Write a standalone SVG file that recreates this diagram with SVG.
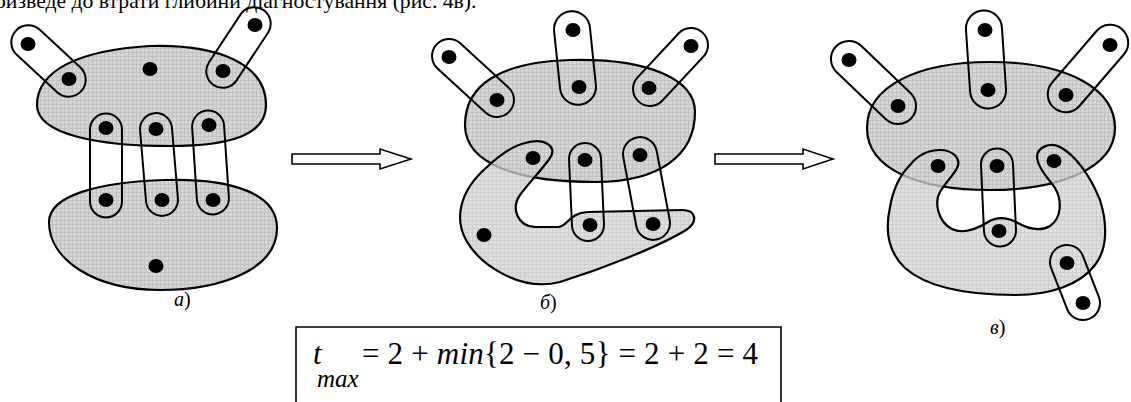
<svg xmlns="http://www.w3.org/2000/svg" width="1131" height="402" viewBox="0 0 1131 402">
<defs>
<pattern id="grid" width="4" height="4" patternUnits="userSpaceOnUse">
<rect width="4" height="4" fill="#d6d6d6"/>
<path d="M0,0.5H4M0.5,0V4" stroke="#c2c2c2" stroke-width="1"/>
</pattern>
</defs>
<style>
.fill{fill:url(#grid);stroke:none}
.over{opacity:0.78}
.edge{fill:none;stroke:#000;stroke-width:2.2;stroke-linejoin:round}
.pill{fill:none;stroke:#000;stroke-width:2}
.dot{fill:#000}
.arrow{fill:#fff;stroke:#000;stroke-width:1.6}
</style>
<rect width="1131" height="402" fill="#fff"/>
<text x="-5" y="8" font-family="'Liberation Serif','Times New Roman','DejaVu Serif',serif" font-size="21.7" fill="#000">ризведе до втрати глибини діагностування (рис. 4в).</text>

<g id="diagram-a">
<g id="a-top-cluster">
<path class="fill" d="M37,105 C37,70 80,50 150,46 C220,44 266,65 266,105 C266,135 230,146 170,146 C100,146 37,135 37,105 Z"/>
<path class="edge" d="M37,105 C37,70 80,50 150,46 C220,44 266,65 266,105 C266,135 230,146 170,146 C100,146 37,135 37,105 Z"/>
</g>
<g id="a-bottom-cluster">
<path class="fill" d="M49,222 C49,195 100,182 165,180 C235,178 277,195 277,228 C277,270 220,290 160,290 C95,290 49,260 49,222 Z"/>
<path class="edge" d="M49,222 C49,195 100,182 165,180 C235,178 277,195 277,228 C277,270 220,290 160,290 C95,290 49,260 49,222 Z"/>
</g>
<g id="a-pills">
<rect class="pill" x="-44.5" y="-17" width="89" height="34" rx="17" transform="translate(48.5,61) rotate(42.7)"/>
<rect class="pill" x="-45" y="-16.5" width="90" height="33" rx="16.5" transform="translate(238.5,47.5) rotate(-56.6)"/>
<rect class="pill" x="-52" y="-16" width="104" height="32" rx="16" transform="translate(106,165.5) rotate(90)"/>
<rect class="pill" x="-51.5" y="-16" width="103" height="32" rx="16" transform="translate(159,164.5) rotate(85.2)"/>
<rect class="pill" x="-52" y="-16" width="104" height="32" rx="16" transform="translate(210.5,162.5) rotate(86.2)"/>
</g>
<g id="a-dots">
<ellipse class="dot" cx="28" cy="44" rx="7.5" ry="7"/>
<ellipse class="dot" cx="69" cy="79" rx="7.5" ry="7"/>
<ellipse class="dot" cx="150" cy="69" rx="7.5" ry="7"/>
<ellipse class="dot" cx="223" cy="71" rx="7.5" ry="7"/>
<ellipse class="dot" cx="255" cy="25" rx="7.5" ry="7"/>
<ellipse class="dot" cx="106" cy="128" rx="7.5" ry="7"/>
<ellipse class="dot" cx="156" cy="129" rx="7.5" ry="7"/>
<ellipse class="dot" cx="209" cy="125" rx="7.5" ry="7"/>
<ellipse class="dot" cx="106" cy="200" rx="7.5" ry="7"/>
<ellipse class="dot" cx="162" cy="200" rx="7.5" ry="7"/>
<ellipse class="dot" cx="213" cy="200" rx="7.5" ry="7"/>
<ellipse class="dot" cx="156" cy="266" rx="7.5" ry="7"/>
</g>
<text x="174" y="306" font-family="'Liberation Serif','Times New Roman','DejaVu Serif',serif" font-size="20" fill="#000"><tspan font-style="italic">а</tspan>)</text>
</g>

<g id="diagram-b">
<g id="b-top-cluster">
<path class="fill" d="M465,125 C465,85 500,62 570,60 C650,58 695,80 695,112 C695,155 660,182 595,182 C520,182 465,165 465,125 Z"/>
<path class="edge" d="M465,125 C465,85 500,62 570,60 C650,58 695,80 695,112 C695,155 660,182 595,182 C520,182 465,165 465,125 Z"/>
</g>
<g id="b-bottom-cluster">
<path class="fill over" d="M487,167 C500,155 512,146 525,143 C545,137 558,147 550,158 C540,172 528,184 520,195 C511,208 517,226 535,227 L558,227 C568,227 568,213 588,212 L682,210 C697,210 698,222 686,230 C660,246 605,268 560,282 C520,292 480,265 466,240 C455,220 458,192 487,167 Z"/>
<path class="edge" d="M487,167 C500,155 512,146 525,143 C545,137 558,147 550,158 C540,172 528,184 520,195 C511,208 517,226 535,227 L558,227 C568,227 568,213 588,212 L682,210 C697,210 698,222 686,230 C660,246 605,268 560,282 C520,292 480,265 466,240 C455,220 458,192 487,167 Z"/>
</g>
<g id="b-pills">
<rect class="pill" x="-49.5" y="-17" width="99" height="34" rx="17" transform="translate(473,78) rotate(42.5)"/>
<rect class="pill" x="-47" y="-18" width="94" height="36" rx="18" transform="translate(575,58) rotate(84.1)"/>
<rect class="pill" x="-47" y="-17" width="94" height="34" rx="17" transform="translate(670.5,67) rotate(-47)"/>
<rect class="pill" x="-49" y="-16" width="98" height="32" rx="16" transform="translate(586.5,192) rotate(87.4)"/>
<rect class="pill" x="-52" y="-17" width="104" height="34" rx="17" transform="translate(646.5,188.5) rotate(79.3)"/>
</g>
<g id="b-dots">
<ellipse class="dot" cx="449" cy="57" rx="7.5" ry="7"/>
<ellipse class="dot" cx="497" cy="100" rx="7.5" ry="7"/>
<ellipse class="dot" cx="573" cy="30" rx="7.5" ry="7"/>
<ellipse class="dot" cx="579" cy="87" rx="7.5" ry="7"/>
<ellipse class="dot" cx="691" cy="46" rx="7.5" ry="7"/>
<ellipse class="dot" cx="649" cy="88" rx="7.5" ry="7"/>
<ellipse class="dot" cx="533" cy="158" rx="7.5" ry="7"/>
<ellipse class="dot" cx="585" cy="160" rx="7.5" ry="7"/>
<ellipse class="dot" cx="640" cy="155" rx="7.5" ry="7"/>
<ellipse class="dot" cx="590" cy="225" rx="7.5" ry="7"/>
<ellipse class="dot" cx="653" cy="224" rx="7.5" ry="7"/>
<ellipse class="dot" cx="484" cy="235" rx="7.5" ry="7"/>
</g>
<text x="540" y="309" font-family="'Liberation Serif','Times New Roman','DejaVu Serif',serif" font-size="20" fill="#000"><tspan font-style="italic">б</tspan>)</text>
</g>

<g id="diagram-c">
<g id="c-top-cluster">
<path class="fill" d="M867,128 C867,85 920,62 990,62 C1070,62 1115,90 1115,128 C1115,168 1060,190 990,190 C920,190 867,170 867,128 Z"/>
<path class="edge" d="M867,128 C867,85 920,62 990,62 C1070,62 1115,90 1115,128 C1115,168 1060,190 990,190 C920,190 867,170 867,128 Z"/>
</g>
<g id="c-bottom-cluster">
<path class="fill over" d="M890,207 C893,190 900,175 910,165 C918,155 928,150 940,150 C952,150 962,158 957,168 C953,176 945,183 940,192 C934,202 938,222 952,229 C962,234 975,230 988,222 C998,216 1008,218 1016,222 C1028,229 1040,232 1050,226 C1062,218 1062,200 1055,188 C1048,178 1038,168 1037,157 C1037,147 1050,142 1060,147 C1075,155 1090,175 1100,200 C1108,225 1107,250 1095,265 C1080,285 1050,295 1015,295 C975,295 930,290 905,268 C888,252 885,230 890,207 Z"/>
<path class="edge" d="M890,207 C893,190 900,175 910,165 C918,155 928,150 940,150 C952,150 962,158 957,168 C953,176 945,183 940,192 C934,202 938,222 952,229 C962,234 975,230 988,222 C998,216 1008,218 1016,222 C1028,229 1040,232 1050,226 C1062,218 1062,200 1055,188 C1048,178 1038,168 1037,157 C1037,147 1050,142 1060,147 C1075,155 1090,175 1100,200 C1108,225 1107,250 1095,265 C1080,285 1050,295 1015,295 C975,295 930,290 905,268 C888,252 885,230 890,207 Z"/>
</g>
<g id="c-pills">
<rect class="pill" x="-52" y="-18" width="104" height="36" rx="18" transform="translate(873.5,82.5) rotate(43.8)"/>
<rect class="pill" x="-49" y="-18" width="98" height="36" rx="18" transform="translate(986,59.5) rotate(86.2)"/>
<rect class="pill" x="-52" y="-18" width="104" height="36" rx="18" transform="translate(1088,68.5) rotate(130.8)"/>
<rect class="pill" x="-49" y="-16" width="98" height="32" rx="16" transform="translate(998.5,197.5) rotate(87.4)"/>
<rect class="pill" x="-39" y="-17" width="78" height="34" rx="17" transform="translate(1075,282.5) rotate(68.7)"/>
</g>
<g id="c-dots">
<ellipse class="dot" cx="849" cy="60" rx="7.5" ry="7"/>
<ellipse class="dot" cx="898" cy="106" rx="7.5" ry="7"/>
<ellipse class="dot" cx="985" cy="30" rx="7.5" ry="7"/>
<ellipse class="dot" cx="988" cy="90" rx="7.5" ry="7"/>
<ellipse class="dot" cx="1110" cy="45" rx="7.5" ry="7"/>
<ellipse class="dot" cx="1066" cy="95" rx="7.5" ry="7"/>
<ellipse class="dot" cx="938" cy="166" rx="7.5" ry="7"/>
<ellipse class="dot" cx="997" cy="166" rx="7.5" ry="7"/>
<ellipse class="dot" cx="1054" cy="161" rx="7.5" ry="7"/>
<ellipse class="dot" cx="999" cy="231" rx="7.5" ry="7"/>
<ellipse class="dot" cx="1067" cy="263" rx="7.5" ry="7"/>
<ellipse class="dot" cx="1083" cy="303" rx="7.5" ry="7"/>
</g>
<text x="990" y="334" font-family="'Liberation Serif','Times New Roman','DejaVu Serif',serif" font-size="20" fill="#000"><tspan font-style="italic">в</tspan>)</text>
</g>

<g id="connectors">
<polygon class="arrow" points="292,154 380,154 380,149 411,159 380,169 380,164 292,164"/>
<polygon class="arrow" points="715,154 803,154 803,149 833,159 803,169 803,164 715,164"/>
</g>

<g id="formula" font-family="'Liberation Serif','Times New Roman','DejaVu Serif',serif" fill="#000">
<path d="M296,402 V327 H781 V402" fill="none" stroke="#000" stroke-width="1.6"/>
<text x="313" y="364" font-size="31" font-style="italic">t</text>
<text x="317" y="387" font-size="25" font-style="italic">max</text>
<text x="362" y="364" font-size="31" textLength="396" lengthAdjust="spacing">= 2 + <tspan font-style="italic">min</tspan>{2 − 0, 5} = 2 + 2 = 4</text>
</g>
</svg>
